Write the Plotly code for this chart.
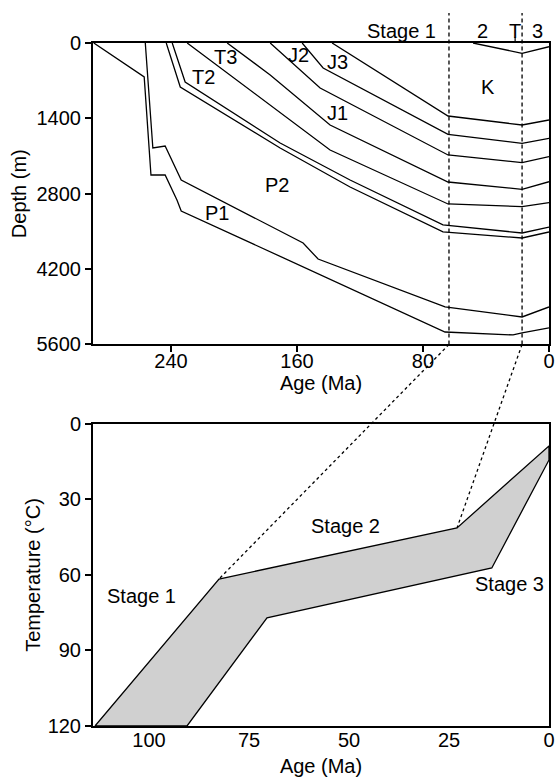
import plotly.graph_objects as go

# ---------------- Top chart: burial history (Age Ma vs Depth m) ----------------
basement_age = [289, 257.0, 252.7, 243.7, 236.2, 233.5, 66.0, 22.8, 17.1, 0]
basement_depth = [0, 631, 2452, 2452, 2916, 3120, 5368, 5423, 5386, 5293]

p1_age = [256.3, 251.5, 243.7, 233.5, 156.1, 146.6, 66.0, 17.1, 0]
p1_depth = [0, 1950, 1913, 2545, 3715, 4012, 4903, 5089, 4903]

p2_age = [243.0, 234.1, 170.7, 126.3, 67.3, 17.1, 0]
p2_depth = [0, 817, 1950, 2675, 3510, 3622, 3510]

t1_age = [239.2, 231.0, 170.7, 126.3, 67.3, 17.1, 0]
t1_depth = [0, 724, 1857, 2545, 3380, 3529, 3418]

t2_age = [229.7, 177.0, 139.0, 64.1, 17.1, 0]
t2_depth = [0, 1152, 1987, 2990, 3040, 2966]

t3_age = [204.3, 177.0, 139.0, 64.1, 17.1, 0]
t3_depth = [0, 594, 1523, 2582, 2718, 2577]

j1_age = [177.0, 145.3, 64.1, 17.1, 0]
j1_depth = [0, 836, 2080, 2223, 2112]

j2_age = [156.7, 143.4, 64.1, 17.1, 0]
j2_depth = [0, 464, 1696, 1863, 1771]

j3_age = [137.7, 64.1, 17.1, 0]
j3_depth = [0, 1356, 1523, 1430]

k_age = [48.2, 17.1, 0]
k_depth = [0, 191, 69]

top_layer_labels = ["P1", "P2", "T2", "T3", "J1", "J2", "J3", "K"]
top_label_age = [210.9, 172.6, 219.5, 205.6, 134.5, 159.3, 134.5, 38.7]
top_label_depth = [3163, 2637, 632, 260, 1300, 223, 362, 817]

stage_bounds_top = [63.5, 17.1]           # Ma, dashed lines in top chart
stage_labels_top = ["Stage 1", "2", "T", "3"]
stage_label_age = [93.5, 42.0, 21.5, 7.0]

top_x_ticks = [240, 160, 80, 0]
top_y_ticks = [0, 1400, 2800, 4200, 5600]

# ---------------- Bottom chart: thermal history envelope ----------------
upper_age = [113.5, 82.5, 23.0, 0]
upper_temp = [120, 61.6, 41.3, 8.7]
lower_age = [90.5, 70.5, 14.3, 0]
lower_temp = [120, 77.0, 57.2, 14.3]

bottom_labels = ["Stage 1", "Stage 2", "Stage 3"]
bottom_label_age = [102, 51, 10]
bottom_label_temp = [68.5, 40.5, 63.5]

bot_x_ticks = [100, 75, 50, 25, 0]
bot_y_ticks = [0, 30, 60, 90, 120]

# ---------------- layout geometry ----------------
W, H = 556, 779
ML, MR, MT, MB = 93, 7, 43, 53
TOP_RANGE_X = [289.5, 0]
TOP_RANGE_Y = [5600, 0]
BOT_RANGE_X = [114, 0]
BOT_RANGE_Y = [120, 0]
top_dom = [0.5586, 1.0]
bot_dom = [0.0, 0.4422]
plot_h = float(H - MT - MB)

FONT = "Liberation Sans, Arial, Helvetica, sans-serif"
FS = 20
LW = 1.3

fig = go.Figure()

horizons = [
    (basement_age, basement_depth),
    (p1_age, p1_depth),
    (p2_age, p2_depth),
    (t1_age, t1_depth),
    (t2_age, t2_depth),
    (t3_age, t3_depth),
    (j1_age, j1_depth),
    (j2_age, j2_depth),
    (j3_age, j3_depth),
    (k_age, k_depth),
]
for ages, depths in horizons:
    fig.add_trace(go.Scatter(x=ages, y=depths, mode="lines",
                             line=dict(color="black", width=LW),
                             xaxis="x", yaxis="y", showlegend=False,
                             hoverinfo="skip"))

# bottom polygon
poly_x = upper_age + lower_age[::-1] + [upper_age[0]]
poly_y = upper_temp + lower_temp[::-1] + [upper_temp[0]]
fig.add_trace(go.Scatter(x=poly_x, y=poly_y, mode="lines", fill="toself",
                         fillcolor="#d0d0d0", line=dict(color="black", width=LW),
                         xaxis="x2", yaxis="y2", showlegend=False, hoverinfo="skip"))

def top_xp(a):
    return (TOP_RANGE_X[0] - a) / (TOP_RANGE_X[0] - TOP_RANGE_X[1])

def bot_xp(a):
    return (BOT_RANGE_X[0] - a) / (BOT_RANGE_X[0] - BOT_RANGE_X[1])

def bot_yp(t):
    return bot_dom[0] + (1 - t / 120) * (bot_dom[1] - bot_dom[0])

annotations = []
for lab, a, d in zip(top_layer_labels, top_label_age, top_label_depth):
    annotations.append(dict(x=a, y=d, xref="x", yref="y", text=lab, showarrow=False,
                            xanchor="center", yanchor="middle",
                            font=dict(size=FS, color="black", family=FONT)))
for lab, a, t in zip(bottom_labels, bottom_label_age, bottom_label_temp):
    annotations.append(dict(x=a, y=t, xref="x2", yref="y2", text=lab, showarrow=False,
                            xanchor="center", yanchor="middle",
                            font=dict(size=FS, color="black", family=FONT)))

stage_label_y = 1 + 12.0 / plot_h
for lab, a in zip(stage_labels_top, stage_label_age):
    annotations.append(dict(x=top_xp(a), y=stage_label_y, xref="paper", yref="paper",
                            text=lab, showarrow=False, xanchor="center", yanchor="middle",
                            font=dict(size=FS, color="black", family=FONT)))

shapes = []
for a in stage_bounds_top:
    shapes.append(dict(type="line", xref="x", yref="paper", x0=a, x1=a,
                       y0=top_dom[0], y1=1 + 30.0 / plot_h,
                       line=dict(color="black", width=1.3, dash="4px,3px")))
conn = [(stage_bounds_top[0], upper_age[1], upper_temp[1]),
        (stage_bounds_top[1], upper_age[2], upper_temp[2])]
for a_top, a_bot, t_bot in conn:
    shapes.append(dict(type="line", xref="paper", yref="paper",
                       x0=top_xp(a_top), y0=top_dom[0],
                       x1=bot_xp(a_bot), y1=bot_yp(t_bot),
                       line=dict(color="black", width=1.3, dash="3px,3px")))
# short leader under the "T" label pointing to the thin Tertiary wedge
t_age = stage_label_age[2]
shapes.append(dict(type="line", xref="x", yref="paper", x0=t_age, x1=t_age,
                   y0=1.0, y1=1 + 6.0 / plot_h, line=dict(color="black", width=1.2)))

axis_common = dict(showgrid=False, zeroline=False, showline=True, linecolor="black",
                   linewidth=2, mirror=True, ticks="outside", tickcolor="black",
                   tickwidth=1.5, ticklen=6, automargin=False,
                   tickfont=dict(size=FS, color="black", family=FONT))

fig.update_layout(
    width=W, height=H,
    margin=dict(l=ML, r=MR, t=MT, b=MB, autoexpand=False),
    paper_bgcolor="white", plot_bgcolor="white",
    font=dict(family=FONT, size=FS, color="black"),
    xaxis=dict(**axis_common, domain=[0, 1], range=TOP_RANGE_X, tickvals=top_x_ticks,
               anchor="y", ticklabelstandoff=-8,
               title=dict(text="Age (Ma)", standoff=0,
                          font=dict(size=FS, family=FONT))),
    yaxis=dict(**axis_common, domain=top_dom, range=TOP_RANGE_Y, tickvals=top_y_ticks,
               anchor="x", title=dict(text="Depth (m)", standoff=4,
                                      font=dict(size=FS, family=FONT))),
    xaxis2=dict(**{**axis_common, "ticks": ""}, domain=[0, 1], range=BOT_RANGE_X,
                tickvals=bot_x_ticks, anchor="y2", ticklabelstandoff=-5,
                title=dict(text="Age (Ma)", standoff=9, font=dict(size=FS, family=FONT))),
    yaxis2=dict(**axis_common, domain=bot_dom, range=BOT_RANGE_Y, tickvals=bot_y_ticks,
                anchor="x2", title=dict(text="Temperature (°C)", standoff=2,
                                        font=dict(size=FS, family=FONT))),
    annotations=annotations,
    shapes=shapes,
)

fig.write_html(
    "out.html",
    config={"displayModeBar": False},
    post_script="document.body.style.margin='0';document.body.style.padding='0';"
                "document.documentElement.style.overflow='hidden';",
)
